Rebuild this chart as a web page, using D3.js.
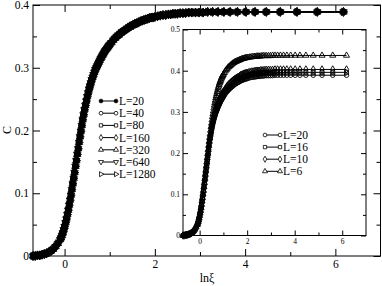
<!DOCTYPE html>
<html>
<head>
<meta charset="utf-8">
<script src="https://cdn.jsdelivr.net/npm/d3@7"></script>
<style>
  html, body { margin: 0; padding: 0; background: #fff; }
  svg { display: block; }
  text { font-family: "Liberation Serif", "DejaVu Serif", serif; fill: #000; }
</style>
</head>
<body>
<svg id="chart" width="382" height="286"></svg>
<script>
// *** DATA ***
// ln(xi) sample points (shared by every curve)
var lnXi = [
  -0.70, -0.65, -0.60, -0.55, -0.50, -0.45, -0.40, -0.35, -0.30, -0.25, -0.20, -0.15, -0.10,
  -0.08, -0.06, -0.04, -0.02, 0.00, 0.02, 0.04, 0.06, 0.08, 0.10, 0.12, 0.14, 0.16, 0.18,
  0.20, 0.22, 0.24, 0.26, 0.28, 0.30, 0.32, 0.34, 0.36, 0.38, 0.40, 0.42, 0.44, 0.46, 0.48,
  0.50, 0.52, 0.54, 0.56, 0.58, 0.60, 0.62, 0.64, 0.66, 0.68, 0.70, 0.72, 0.74, 0.76, 0.78,
  0.80, 0.82, 0.84, 0.86, 0.88, 0.90, 0.92, 0.94, 0.96, 0.98, 1.00,
  1.04, 1.08, 1.12, 1.16, 1.20, 1.24, 1.28, 1.32, 1.36, 1.40, 1.44, 1.48, 1.52, 1.56, 1.60,
  1.64, 1.68, 1.72, 1.76, 1.80, 1.84, 1.88, 1.92, 1.96, 2.00,
  2.06, 2.12, 2.18, 2.24, 2.30, 2.35, 2.40, 2.45, 2.50, 2.56, 2.62, 2.68, 2.75, 2.82, 2.90,
  2.98, 3.07, 3.17, 3.28, 3.40, 3.53, 3.67, 3.83, 4.02, 4.22, 4.47, 4.78, 5.15, 5.60, 6.18
];

// L >= 20 curves all collapse onto this one
var cL20 = [
  0.000, 0.000, 0.001, 0.001, 0.002, 0.003, 0.004, 0.006, 0.008, 0.011, 0.015, 0.020, 0.026,
  0.029, 0.033, 0.037, 0.042, 0.047, 0.053, 0.059, 0.066, 0.073, 0.081, 0.089, 0.097, 0.106, 0.115,
  0.124, 0.133, 0.143, 0.152, 0.162, 0.171, 0.181, 0.190, 0.199, 0.208, 0.217, 0.225, 0.233, 0.240, 0.247,
  0.254, 0.260, 0.266, 0.271, 0.276, 0.281, 0.285, 0.289, 0.293, 0.297, 0.300, 0.303, 0.306, 0.309, 0.312,
  0.315, 0.317, 0.320, 0.322, 0.325, 0.327, 0.329, 0.331, 0.333, 0.335, 0.337,
  0.340, 0.344, 0.347, 0.350, 0.352, 0.355, 0.357, 0.359, 0.361, 0.363, 0.365, 0.367, 0.368, 0.370, 0.371,
  0.372, 0.374, 0.375, 0.376, 0.377, 0.378, 0.379, 0.380, 0.380, 0.381,
  0.382, 0.383, 0.384, 0.384, 0.385, 0.385, 0.386, 0.386, 0.386, 0.387, 0.387, 0.387, 0.388, 0.388, 0.388,
  0.388, 0.388, 0.389, 0.389, 0.389, 0.389, 0.389, 0.389, 0.389, 0.389, 0.389, 0.389, 0.389, 0.389, 0.389
];
var cL16 = [
  0.000, 0.000, 0.001, 0.001, 0.002, 0.003, 0.004, 0.006, 0.008, 0.011, 0.015, 0.020, 0.026,
  0.030, 0.034, 0.038, 0.043, 0.048, 0.054, 0.060, 0.067, 0.074, 0.082, 0.091, 0.099, 0.108, 0.117,
  0.126, 0.135, 0.146, 0.155, 0.165, 0.174, 0.184, 0.193, 0.203, 0.212, 0.221, 0.229, 0.237, 0.244, 0.251,
  0.259, 0.265, 0.271, 0.276, 0.281, 0.286, 0.290, 0.294, 0.298, 0.302, 0.305, 0.308, 0.312, 0.315, 0.318,
  0.321, 0.323, 0.326, 0.328, 0.331, 0.333, 0.335, 0.337, 0.339, 0.341, 0.343,
  0.346, 0.350, 0.353, 0.356, 0.358, 0.361, 0.363, 0.365, 0.367, 0.370, 0.372, 0.373, 0.375, 0.377, 0.378,
  0.379, 0.381, 0.382, 0.383, 0.384, 0.385, 0.386, 0.387, 0.387, 0.388,
  0.389, 0.390, 0.391, 0.391, 0.392, 0.392, 0.393, 0.393, 0.393, 0.394, 0.394, 0.394, 0.395, 0.395, 0.395,
  0.395, 0.395, 0.396, 0.396, 0.396, 0.396, 0.396, 0.396, 0.396, 0.396, 0.396, 0.396, 0.396, 0.396, 0.396
];
var cL10 = [
  0.000, 0.000, 0.001, 0.001, 0.002, 0.003, 0.004, 0.006, 0.008, 0.011, 0.016, 0.021, 0.027,
  0.030, 0.034, 0.038, 0.044, 0.049, 0.055, 0.061, 0.068, 0.076, 0.084, 0.092, 0.100, 0.110, 0.119,
  0.128, 0.138, 0.148, 0.157, 0.168, 0.177, 0.188, 0.197, 0.206, 0.215, 0.225, 0.233, 0.241, 0.249, 0.256,
  0.263, 0.269, 0.276, 0.281, 0.286, 0.291, 0.295, 0.299, 0.304, 0.308, 0.311, 0.314, 0.317, 0.320, 0.323,
  0.326, 0.328, 0.332, 0.334, 0.337, 0.339, 0.341, 0.343, 0.345, 0.347, 0.349,
  0.352, 0.356, 0.359, 0.363, 0.365, 0.368, 0.370, 0.372, 0.374, 0.376, 0.378, 0.380, 0.381, 0.383, 0.384,
  0.385, 0.387, 0.389, 0.390, 0.391, 0.392, 0.393, 0.394, 0.394, 0.395,
  0.396, 0.397, 0.398, 0.398, 0.399, 0.399, 0.400, 0.400, 0.400, 0.401, 0.401, 0.401, 0.402, 0.402, 0.402,
  0.402, 0.402, 0.403, 0.403, 0.403, 0.403, 0.403, 0.403, 0.403, 0.403, 0.403, 0.403, 0.403, 0.403, 0.403
];
var cL6 = [
  0.000, 0.000, 0.001, 0.001, 0.002, 0.003, 0.004, 0.006, 0.008, 0.011, 0.015, 0.020, 0.026,
  0.029, 0.033, 0.037, 0.042, 0.048, 0.054, 0.060, 0.067, 0.075, 0.083, 0.091, 0.100, 0.109, 0.118,
  0.128, 0.138, 0.148, 0.158, 0.168, 0.178, 0.188, 0.198, 0.208, 0.218, 0.228, 0.237, 0.246, 0.255, 0.264,
  0.272, 0.280, 0.288, 0.295, 0.302, 0.309, 0.316, 0.322, 0.328, 0.334, 0.339, 0.344, 0.349, 0.354, 0.358,
  0.362, 0.366, 0.370, 0.373, 0.376, 0.379, 0.382, 0.385, 0.387, 0.389, 0.391,
  0.395, 0.399, 0.402, 0.405, 0.408, 0.410, 0.412, 0.414, 0.416, 0.418, 0.419, 0.421, 0.422, 0.423, 0.424,
  0.425, 0.426, 0.427, 0.428, 0.429, 0.429, 0.430, 0.431, 0.431, 0.432,
  0.432, 0.433, 0.433, 0.434, 0.434, 0.434, 0.435, 0.435, 0.435, 0.435, 0.436, 0.436, 0.436, 0.436, 0.436,
  0.436, 0.437, 0.437, 0.437, 0.437, 0.437, 0.437, 0.437, 0.437, 0.437, 0.437, 0.437, 0.437, 0.437, 0.437
];

// main plot series (all overlap on cL20)
var mainLabels = ["L=20", "L=40", "L=80", "L=160", "L=320", "L=640", "L=1280"];
var mainShapes = ["dot", "circle", "square", "diamond", "up", "down", "right"];
// inset series
var insetLabels = ["L=20", "L=16", "L=10", "L=6"];
var insetShapes = ["circle", "square", "diamond", "up"];
var insetValues = [cL20, cL16, cL10, cL6];

var mainXTicks = [0, 2, 4, 6];
var mainXMinor = [1, 3, 5];
var mainYTicks = [0, 0.1, 0.2, 0.3, 0.4];
var mainYMinor = [0.05, 0.15, 0.25, 0.35];
var insetXTicks = [0, 2, 4, 6];
var insetXMinor = [1, 3, 5];
var insetYTicks = [0, 0.1, 0.2, 0.3, 0.4, 0.5];
var insetYMinor = [0.05, 0.15, 0.25, 0.35, 0.45];

// *** SVG STUFF ***
var svg = d3.select("#chart");

var main = { left: 33, right: 380.5, top: 5, bottom: 256 };
var inset = { left: 183, right: 366, top: 29.5, bottom: 235.5 };

var xMain = d3.scaleLinear().domain([-0.7, 7]).range([main.left, main.right]);
var yMain = d3.scaleLinear().domain([0, 0.4]).range([main.bottom, main.top]);
var xIn = d3.scaleLinear().domain([-0.7, 7]).range([inset.left, inset.right]);
var yIn = d3.scaleLinear().domain([0, 0.5]).range([inset.bottom, inset.top]);

function symbolPath(shape, size) {
  var type = d3.symbolCircle;
  if (shape == "square") type = d3.symbolSquare;
  if (shape == "diamond") type = d3.symbolDiamond;
  if (shape == "up" || shape == "down" || shape == "right") type = d3.symbolTriangle;
  return d3.symbol().type(type).size(size)();
}
function symbolRotate(shape) {
  if (shape == "down") return " rotate(180)";
  if (shape == "right") return " rotate(90)";
  return "";
}

function drawFrame(box, xs, ys, opt) {
  var g = svg.append("g");
  // inward ticks on all four sides
  var sides = [
    { make: d3.axisBottom, s: xs, tr: "translate(0," + box.bottom + ")", t: opt.xTicks, m: opt.xMinor, lab: true },
    { make: d3.axisTop, s: xs, tr: "translate(0," + box.top + ")", t: opt.xTicks, m: opt.xMinor, lab: false },
    { make: d3.axisLeft, s: ys, tr: "translate(" + box.left + ",0)", t: opt.yTicks, m: opt.yMinor, lab: true },
    { make: d3.axisRight, s: ys, tr: "translate(" + box.right + ",0)", t: opt.yTicks, m: opt.yMinor, lab: false }
  ];
  sides.forEach(function(sd) {
    var major = sd.make(sd.s).tickValues(sd.t).tickSize(-opt.major).tickPadding(opt.pad)
      .tickFormat(sd.lab ? opt.fmt : function() { return ""; });
    var ga = g.append("g").attr("transform", sd.tr).call(major);
    ga.select(".domain").remove();
    ga.attr("font-family", null);
    ga.selectAll("text")
      .attr("font-size", opt.font)
      .attr("fill", "#000");
    ga.selectAll("line").attr("stroke", "#000");
    var minorAxis = sd.make(sd.s).tickValues(sd.m).tickSize(-opt.minor).tickFormat("");
    var gm = g.append("g").attr("transform", sd.tr).call(minorAxis);
    gm.select(".domain").remove();
    gm.selectAll("line").attr("stroke", "#000");
  });
  g.append("rect")
    .attr("x", box.left).attr("y", box.top)
    .attr("width", box.right - box.left).attr("height", box.bottom - box.top)
    .attr("fill", "none").attr("stroke", "#000").attr("stroke-width", 1);
  return g;
}

function drawSeries(xs, ys, values, shape, size) {
  var pts = lnXi.map(function(x, i) { return [x, values[i]]; });
  var line = d3.line()
    .x(function(d) { return xs(d[0]); })
    .y(function(d) { return ys(d[1]); });
  var g = svg.append("g");
  g.append("path")
    .attr("d", line(pts))
    .attr("fill", "none")
    .attr("stroke", "#000")
    .attr("stroke-width", 1);
  // open symbols are hollow (no fill), like the original plot
  g.selectAll("path.pt")
    .data(pts)
    .enter()
      .append("path")
      .attr("class", "pt")
      .attr("d", symbolPath(shape, size))
      .attr("transform", function(d) {
        return "translate(" + xs(d[0]) + "," + ys(d[1]) + ")" + symbolRotate(shape);
      })
      .attr("fill", shape == "dot" ? "#000" : "none")
      .attr("stroke", "#000")
      .attr("stroke-width", 0.9);
}

function drawLegend(x0, y0, step, len, labels, shapes, font) {
  var g = svg.append("g");
  labels.forEach(function(lab, i) {
    var y = y0 + i * step;
    g.append("line")
      .attr("x1", x0).attr("x2", x0 + len).attr("y1", y).attr("y2", y)
      .attr("stroke", "#000").attr("stroke-width", 1);
    [x0, x0 + len].forEach(function(px) {
      g.append("path")
        .attr("d", symbolPath(shapes[i], 11))
        .attr("transform", "translate(" + px + "," + y + ")" + symbolRotate(shapes[i]))
        .attr("fill", shapes[i] == "dot" ? "#000" : "#fff")
        .attr("stroke", "#000")
        .attr("stroke-width", 0.8);
    });
    g.append("text")
      .attr("x", x0 + len + 3).attr("y", y)
      .attr("dy", "0.35em")
      .attr("font-size", font)
      .text(lab);
  });
}

// --- main plot ---
svg.append("rect").attr("width", 382).attr("height", 286).attr("fill", "#fff");

drawFrame(main, xMain, yMain, {
  xTicks: mainXTicks, xMinor: mainXMinor, yTicks: mainYTicks, yMinor: mainYMinor,
  major: 7, minor: 4, pad: 4, font: "11.5px", fmt: d3.format("")
});

mainShapes.forEach(function(shape) {
  drawSeries(xMain, yMain, cL20, shape, 24);
});

drawLegend(101, 101, 12.2, 15, mainLabels, mainShapes, "11.5px");

svg.append("text")
  .attr("transform", "translate(11,130) rotate(-90)")
  .attr("text-anchor", "middle")
  .attr("font-size", "12px")
  .text("C");
svg.append("text")
  .attr("x", 207).attr("y", 282)
  .attr("text-anchor", "middle")
  .attr("font-size", "12px")
  .text("lnξ");

// --- inset ---
svg.append("rect")
  .attr("x", inset.left).attr("y", inset.top)
  .attr("width", inset.right - inset.left).attr("height", inset.bottom - inset.top)
  .attr("fill", "#fff");

insetShapes.forEach(function(shape, i) {
  drawSeries(xIn, yIn, insetValues[i], shape, 16);
});

drawFrame(inset, xIn, yIn, {
  xTicks: insetXTicks, xMinor: insetXMinor, yTicks: insetYTicks, yMinor: insetYMinor,
  major: 5, minor: 3, pad: 3, font: "7.5px", fmt: d3.format("")
});

drawLegend(265, 135, 12.1, 15, insetLabels, insetShapes, "11.5px");
</script>
</body>
</html>
